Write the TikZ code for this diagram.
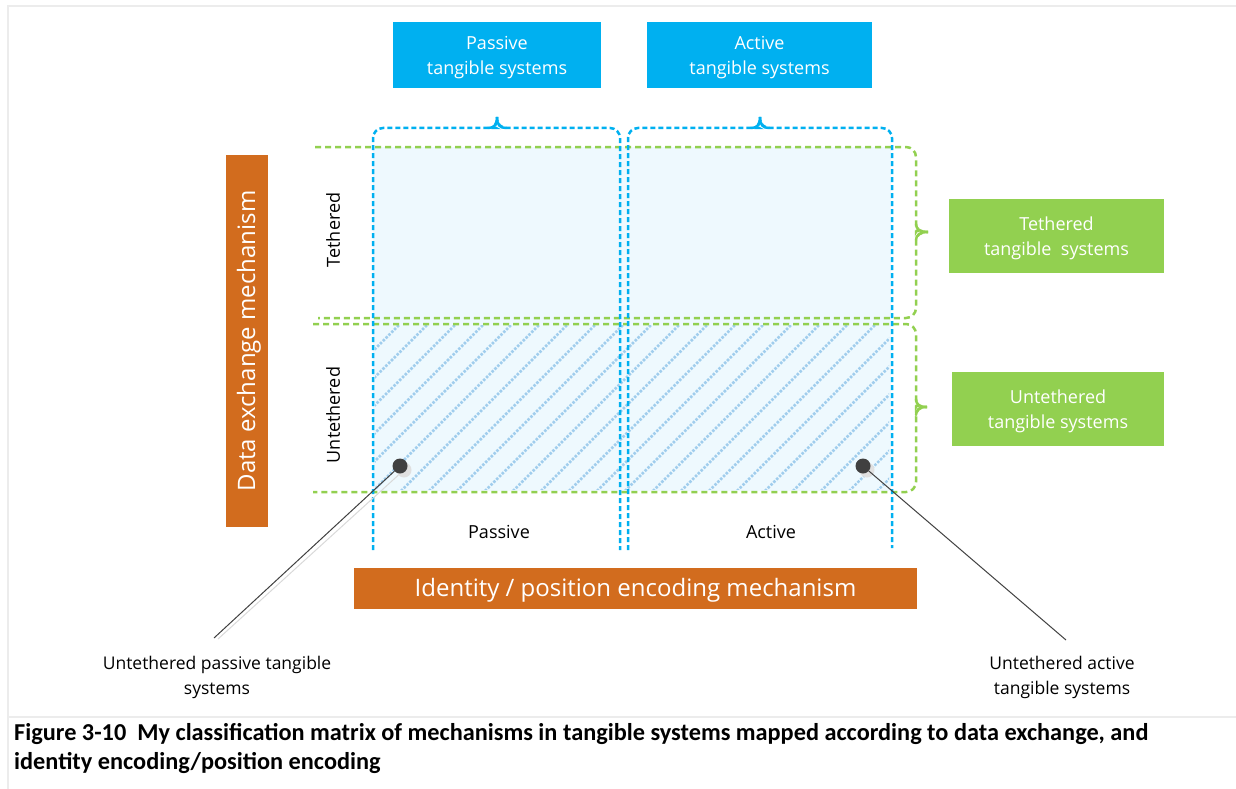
\documentclass[tikz,border=0pt]{standalone}
\usepackage{fontspec}
\setmainfont{Open Sans}
\newfontfamily\capfont{Carlito}
\usetikzlibrary{calc}
\definecolor{tanblue}{RGB}{0,176,240}
\definecolor{tangreen}{RGB}{146,208,80}
\definecolor{tanorange}{RGB}{210,108,30}
\definecolor{cellfill}{RGB}{238,249,254}
\definecolor{hatchblue}{RGB}{160,205,237}
\definecolor{framegray}{RGB}{236,236,236}
\definecolor{dotgray}{RGB}{64,64,64}

\begin{document}
\begin{tikzpicture}[x=1pt,y=-1pt,
  catbox/.style={fill=#1, inner sep=0pt},
  cattext/.style={text=white, inner sep=0pt, align=center,
                  font=\fontsize{18}{25}\selectfont},
  axisbox/.style={fill=tanorange, inner sep=0pt},
  axistext/.style={text=white, inner sep=0pt, font=\fontsize{24}{28}\selectfont},
  bluedash/.style={draw=tanblue, line width=2.5pt, dash pattern=on 5pt off 3pt},
  greendash/.style={draw=tangreen, line width=2.5pt, dash pattern=on 6pt off 4pt},
  bluetip/.style={draw=tanblue, line width=2.5pt, line cap=round},
  greentip/.style={draw=tangreen, line width=2.5pt, line cap=round},
  axislabel/.style={font=\fontsize{18}{22}\selectfont},
  note/.style={font=\fontsize{17.5}{25}\selectfont, align=center},
  dot/.style={circle, fill=dotgray, minimum size=15pt, inner sep=0pt},
  dotshadow/.style={circle, fill=black!12, minimum size=15pt, inner sep=0pt},
  leader/.style={draw=dotgray, line width=1pt}]

\useasboundingbox (0,0) rectangle (1236,789);

% page frame
\draw[framegray, line width=1.5pt] (1236,6) -- (8,6) -- (8,789);
\draw[framegray, line width=1.5pt] (8,717) -- (1236,717);

% matrix cells
\fill[cellfill] (373,147) rectangle (891,491);
\begin{scope}
  \clip (375,325) rectangle (889,489);
  \foreach \k in {-196,-168,...,540}
    \draw[hatchblue, line width=2.5pt, dash pattern=on 2.5pt off 1.5pt]
      (373+\k,491) -- ++(166,-166);
\end{scope}

% green row brackets
\draw[greendash, rounded corners=10pt]
  (315,147) -- (916,147) -- (916,222) [sharp corners]
  .. controls (916,229) and (920,232) .. (928,232)
  .. controls (920,232) and (916,235) .. (916,242)
  [rounded corners=10pt] -- (916,318) -- (318,318);
\draw[greentip] (916,224) .. controls (916,229) and (920,232) .. (928,232)
  .. controls (920,232) and (916,235) .. (916,240);
\draw[greendash, rounded corners=10pt]
  (313,324) -- (916,324) -- (916,397) [sharp corners]
  .. controls (916,404) and (919,407) .. (927,407)
  .. controls (919,407) and (916,410) .. (916,417)
  [rounded corners=10pt] -- (916,492) -- (313,492);
\draw[greentip] (916,399) .. controls (916,404) and (919,407) .. (927,407)
  .. controls (919,407) and (916,410) .. (916,415);

% blue column brackets
\draw[bluedash, rounded corners=10pt]
  (373,550) -- (373,128) -- (486,128) [sharp corners]
  .. controls (493,128) and (497,125) .. (497,117)
  .. controls (497,125) and (501,128) .. (508,128)
  [rounded corners=10pt] -- (620,128) -- (620,550);
\draw[bluetip] (488,128) .. controls (494,128) and (497,125) .. (497,117)
  .. controls (497,125) and (500,128) .. (506,128);
\draw[bluedash, rounded corners=10pt]
  (628,550) -- (628,128) -- (749,128) [sharp corners]
  .. controls (756,128) and (760,125) .. (760,117)
  .. controls (760,125) and (764,128) .. (771,128)
  [rounded corners=10pt] -- (892,128) -- (892,548);
\draw[bluetip] (751,128) .. controls (757,128) and (760,125) .. (760,117)
  .. controls (760,125) and (763,128) .. (769,128);

% category boxes
\node[catbox=tanblue, minimum width=208pt, minimum height=66pt] (passbox) at (497,55) {};
\node[cattext] (passtxt) at ($(passbox)+(0,3)$) {Passive\\tangible systems};
\node[catbox=tanblue, minimum width=225pt, minimum height=66pt] (actbox) at (759.5,55) {};
\node[cattext] (acttxt) at ($(actbox)+(0,3)$) {Active\\tangible systems};
\node[catbox=tangreen, minimum width=215pt, minimum height=74pt] (tethbox) at (1056.5,236) {};
\node[cattext] (tethtxt) at ($(tethbox)+(0,2.5)$) {Tethered\\tangible\ \ systems};
\node[catbox=tangreen, minimum width=212pt, minimum height=74pt] (untethbox) at (1058,409) {};
\node[cattext] (untethtxt) at ($(untethbox)+(0,2.5)$) {Untethered\\tangible systems};

% axis titles
\node[axisbox, minimum width=42pt, minimum height=372pt] (dataaxis) at (247,341) {};
\node[axistext, rotate=90] (datatxt) at ($(dataaxis)+(2,0)$) {Data exchange mechanism};
\node[axisbox, minimum width=563pt, minimum height=41pt] (idaxis) at (635.5,588.5) {};
\node[axistext] (idtxt) at ($(idaxis)+(0,2)$) {Identity / position encoding mechanism};

% row and column labels
\node[axislabel, rotate=90] (teth) at (333,230) {Tethered};
\node[axislabel, rotate=90] (unteth) at (333,415) {Untethered};
\node[axislabel] (pas) at (499,531.5) {Passive};
\node[axislabel] (act) at (771,531.5) {Active};

% callouts
\coordinate (endL) at (214,638);
\coordinate (endR) at (1066,640);
\node[dotshadow] (shL) at (404,470) {};
\node[dotshadow] (shR) at (867,470) {};
\draw[black!15, line width=1pt] (shL) -- ($(endL)+(4,1)$);
\node[dot] (dotL) at (400,466) {};
\node[dot] (dotR) at (863,466) {};
\draw[leader] (dotL) -- (endL);
\draw[leader] (dotR) -- (endR);
\node[note] (lblL) at (217,677.5) {Untethered passive tangible\\systems};
\node[note] (lblR) at (1062,677.5) {Untethered active\\tangible systems};

% caption
\node[anchor=west, align=left, inner sep=0pt,
      font=\capfont\bfseries\fontsize{24.3}{29}\selectfont] (caption) at (14,748.5)
  {Figure 3-10\ \ My classification matrix of mechanisms in tangible systems mapped according to data exchange, and\\
   identity encoding/position encoding};
\end{tikzpicture}
\end{document}
